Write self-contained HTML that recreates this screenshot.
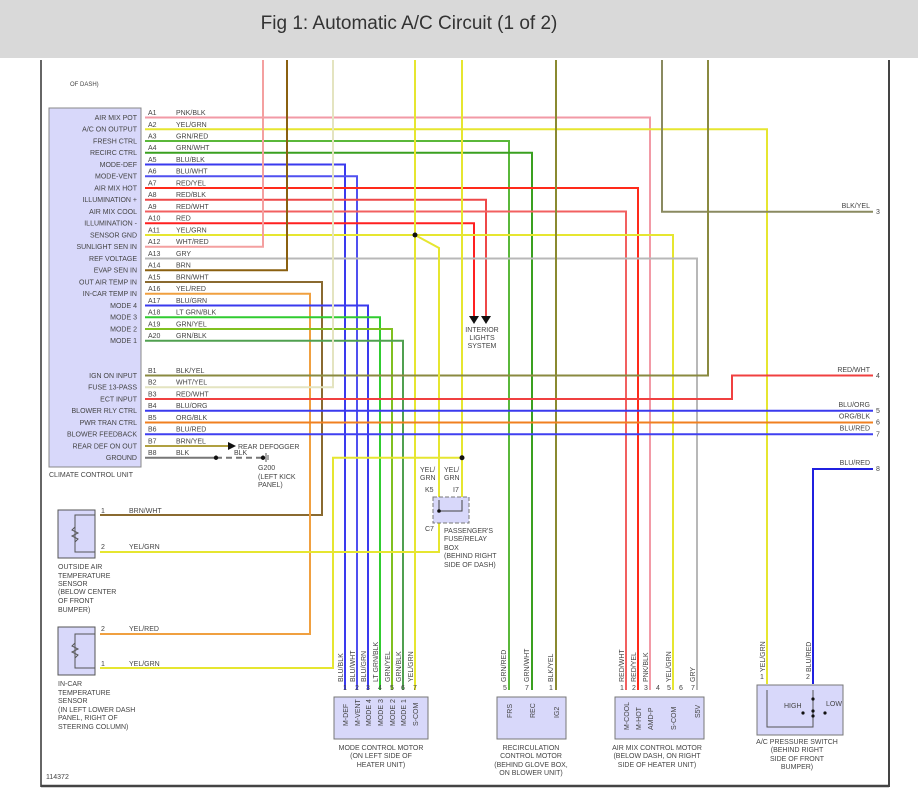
<!DOCTYPE html>
<html><head><meta charset="utf-8"><style>
html,body{margin:0;padding:0;background:#fff;width:918px;height:796px;overflow:hidden}
svg{display:block}
text{font-family:"Liberation Sans",sans-serif;font-size:7px;fill:#444}
</style></head><body>
<svg width="918" height="796" viewBox="0 0 918 796" xmlns="http://www.w3.org/2000/svg">
<rect x="0" y="0" width="918" height="58" fill="#d9d9d9"/>
<text x="409" y="29" text-anchor="middle" style="font-size:19px;fill:#333">Fig 1: Automatic A/C Circuit (1 of 2)</text>
<line x1="41" y1="60" x2="41" y2="787" stroke="#333" stroke-width="1.5"/>
<line x1="889" y1="60" x2="889" y2="787" stroke="#444" stroke-width="2"/>
<line x1="41" y1="786" x2="889" y2="786" stroke="#444" stroke-width="2.5"/>
<text x="70" y="86" style="font-size:6px">OF DASH)</text>

<g fill="none" stroke-width="2">
<polyline points="145,117.5 650,117.5 650,690" stroke="#f29aa6"/>
<polyline points="145,129.25 767,129.25 767,684" stroke="#e6e630"/>
<polyline points="145,141 509,141 509,690" stroke="#5ab83a"/>
<polyline points="145,152.75 532,152.75 532,690" stroke="#3aa020"/>
<polyline points="145,164.5 345,164.5 345,690" stroke="#3a3aee"/>
<polyline points="145,176.25 357,176.25 357,690" stroke="#5050f0"/>
<polyline points="145,188 638,188 638,690" stroke="#ff2a1a"/>
<polyline points="145,199.75 486,199.75 486,316" stroke="#ee4848"/>
<polyline points="145,211.5 626,211.5 626,690" stroke="#f26060"/>
<polyline points="145,223.25 474,223.25 474,316" stroke="#ff2020"/>
<polyline points="145,235 673,235 673,690" stroke="#e6e630"/>
<polyline points="145,246.75 263,246.75 263,60" stroke="#f4a0a0"/>
<polyline points="145,258.5 697,258.5 697,690" stroke="#b8b8b8"/>
<polyline points="145,270.25 287,270.25 287,60" stroke="#8a6010"/>
<polyline points="145,282 322,282 322,515 100,515" stroke="#8a6a30"/>
<polyline points="145,293.75 310,293.75 310,634 100,634" stroke="#f0a040"/>
<polyline points="145,305.5 368,305.5 368,690" stroke="#3a3aee"/>
<polyline points="145,317.25 380,317.25 380,690" stroke="#30cc30"/>
<polyline points="145,329 392,329 392,690" stroke="#80c020"/>
<polyline points="145,340.75 403,340.75 403,690" stroke="#50a050"/>
<polyline points="415,60 415,690" stroke="#e6e630"/>
<polyline points="556,60 556,690" stroke="#8a8a30"/>
<polyline points="333,60 333,387.25 145,387.25" stroke="#e4e4c0"/>
<polyline points="462,60 462,500" stroke="#e6e630"/>
<polyline points="662,60 662,211.7 873,211.7" stroke="#8a8a60"/>
<polyline points="708,60 708,375.5 145,375.5" stroke="#8a8a40"/>
<polyline points="462,457.75 333,457.75 333,668 100,668" stroke="#e6e630"/>
<polyline points="415,235 439,248 439,552 100,552" stroke="#e6e630"/>
<polyline points="145,399 732,399 732,375.5 873,375.5" stroke="#f04040"/>
<polyline points="145,410.75 873,410.75" stroke="#3a3aee"/>
<polyline points="145,422.5 873,422.5" stroke="#f08020"/>
<polyline points="145,434.25 873,434.25" stroke="#4040f0"/>
<polyline points="145,446 228,446" stroke="#b0a040"/>
<polyline points="145,457.75 216,457.75" stroke="#777"/>
<polyline points="216,457.75 263,457.75" stroke="#777" stroke-dasharray="6,4"/>
<polyline points="873,469 813,469 813,684" stroke="#2020e0"/>
</g>
<polygon points="469,316 479,316 474,324" fill="#111"/>
<polygon points="481,316 491,316 486,324" fill="#111"/>
<polygon points="228,442 236,446 228,450" fill="#111"/>
<circle cx="415" cy="235" r="2.5" fill="#111"/>
<circle cx="462" cy="457.75" r="2.5" fill="#111"/>
<circle cx="216" cy="457.75" r="2.2" fill="#111"/>
<circle cx="263" cy="457.75" r="2.2" fill="#111"/>
<line x1="266" y1="453" x2="266" y2="462" stroke="#555"/><line x1="268" y1="455" x2="268" y2="460" stroke="#555"/>

<text x="482" y="332" text-anchor="middle">INTERIOR</text>
<text x="482" y="340" text-anchor="middle">LIGHTS</text>
<text x="482" y="348" text-anchor="middle">SYSTEM</text>
<text x="238" y="449">REAR DEFOGGER</text>
<text x="234" y="455">BLK</text>
<text x="258" y="470">G200</text><text x="258" y="479">(LEFT KICK</text><text x="258" y="487">PANEL)</text>

<!-- climate control unit -->
<rect x="49" y="108" width="92" height="359" fill="#d8d8fa" stroke="#888"/>
<text x="49" y="477">CLIMATE CONTROL UNIT</text>
<g text-anchor="end">
<text x="137" y="120">AIR MIX POT</text><text x="137" y="131.5">A/C ON OUTPUT</text><text x="137" y="143.5">FRESH CTRL</text><text x="137" y="155">RECIRC CTRL</text><text x="137" y="167">MODE-DEF</text><text x="137" y="178.5">MODE-VENT</text><text x="137" y="190.5">AIR MIX HOT</text><text x="137" y="202">ILLUMINATION +</text><text x="137" y="214">AIR MIX COOL</text><text x="137" y="225.5">ILLUMINATION -</text><text x="137" y="237.5">SENSOR GND</text><text x="137" y="249">SUNLIGHT SEN IN</text><text x="137" y="261">REF VOLTAGE</text><text x="137" y="272.5">EVAP SEN IN</text><text x="137" y="284.5">OUT AIR TEMP IN</text><text x="137" y="296">IN-CAR TEMP IN</text><text x="137" y="308">MODE 4</text><text x="137" y="319.5">MODE 3</text><text x="137" y="331.5">MODE 2</text><text x="137" y="343">MODE 1</text>
<text x="137" y="378">IGN ON INPUT</text><text x="137" y="389.5">FUSE 13-PASS</text><text x="137" y="401.5">ECT INPUT</text><text x="137" y="413">BLOWER RLY CTRL</text><text x="137" y="425">PWR TRAN CTRL</text><text x="137" y="436.5">BLOWER FEEDBACK</text><text x="137" y="448.5">REAR DEF ON OUT</text><text x="137" y="460">GROUND</text>
</g>
<g>
<text x="148" y="115">A1</text><text x="176" y="115">PNK/BLK</text>
<text x="148" y="127">A2</text><text x="176" y="127">YEL/GRN</text>
<text x="148" y="138.5">A3</text><text x="176" y="138.5">GRN/RED</text>
<text x="148" y="150">A4</text><text x="176" y="150">GRN/WHT</text>
<text x="148" y="162">A5</text><text x="176" y="162">BLU/BLK</text>
<text x="148" y="173.5">A6</text><text x="176" y="173.5">BLU/WHT</text>
<text x="148" y="185.5">A7</text><text x="176" y="185.5">RED/YEL</text>
<text x="148" y="197">A8</text><text x="176" y="197">RED/BLK</text>
<text x="148" y="209">A9</text><text x="176" y="209">RED/WHT</text>
<text x="148" y="220.5">A10</text><text x="176" y="220.5">RED</text>
<text x="148" y="232.5">A11</text><text x="176" y="232.5">YEL/GRN</text>
<text x="148" y="244">A12</text><text x="176" y="244">WHT/RED</text>
<text x="148" y="256">A13</text><text x="176" y="256">GRY</text>
<text x="148" y="267.5">A14</text><text x="176" y="267.5">BRN</text>
<text x="148" y="279.5">A15</text><text x="176" y="279.5">BRN/WHT</text>
<text x="148" y="291">A16</text><text x="176" y="291">YEL/RED</text>
<text x="148" y="303">A17</text><text x="176" y="303">BLU/GRN</text>
<text x="148" y="314.5">A18</text><text x="176" y="314.5">LT GRN/BLK</text>
<text x="148" y="326.5">A19</text><text x="176" y="326.5">GRN/YEL</text>
<text x="148" y="338">A20</text><text x="176" y="338">GRN/BLK</text>
<text x="148" y="373">B1</text><text x="176" y="373">BLK/YEL</text>
<text x="148" y="384.5">B2</text><text x="176" y="384.5">WHT/YEL</text>
<text x="148" y="396.5">B3</text><text x="176" y="396.5">RED/WHT</text>
<text x="148" y="408">B4</text><text x="176" y="408">BLU/ORG</text>
<text x="148" y="420">B5</text><text x="176" y="420">ORG/BLK</text>
<text x="148" y="431.5">B6</text><text x="176" y="431.5">BLU/RED</text>
<text x="148" y="443.5">B7</text><text x="176" y="443.5">BRN/YEL</text>
<text x="148" y="455">B8</text><text x="176" y="455">BLK</text>
</g>

<!-- right side labels -->
<g text-anchor="end">
<text x="870" y="208">BLK/YEL</text><text x="870" y="372">RED/WHT</text><text x="870" y="407">BLU/ORG</text><text x="870" y="418.5">ORG/BLK</text><text x="870" y="430.5">BLU/RED</text><text x="870" y="465">BLU/RED</text>
</g>
<text x="876" y="214">3</text><text x="876" y="378">4</text><text x="876" y="413">5</text><text x="876" y="424.5">6</text><text x="876" y="436.5">7</text><text x="876" y="471">8</text>

<!-- relay box -->
<rect x="433" y="497" width="36" height="26" fill="#d8d8fa" stroke="#777" stroke-dasharray="4,2"/>
<polyline points="439,500 439,511 462,511 462,500" fill="none" stroke="#444"/>
<circle cx="439" cy="511" r="1.8" fill="#111"/>
<text x="420" y="472">YEL/</text><text x="420" y="480">GRN</text>
<text x="444" y="472">YEL/</text><text x="444" y="480">GRN</text>
<text x="425" y="492">K5</text><text x="453" y="492">I7</text>
<text x="425" y="531">C7</text>
<text x="444" y="533">PASSENGER'S</text><text x="444" y="541">FUSE/RELAY</text><text x="444" y="550">BOX</text><text x="444" y="558">(BEHIND RIGHT</text><text x="444" y="567">SIDE OF DASH)</text>

<!-- sensors -->
<rect x="58" y="510" width="37" height="48" fill="#d8d8fa" stroke="#555"/>
<polyline points="95,515 75,515 75,552 95,552" fill="none" stroke="#555"/>
<polyline points="75,527 72,530 78,533 72,536 78,539 75,542" fill="none" stroke="#555"/>
<text x="101" y="513">1</text><text x="129" y="513">BRN/WHT</text>
<text x="101" y="549">2</text><text x="129" y="549">YEL/GRN</text>
<text x="58" y="569">OUTSIDE AIR</text><text x="58" y="578">TEMPERATURE</text><text x="58" y="586">SENSOR</text><text x="58" y="594">(BELOW CENTER</text><text x="58" y="603">OF FRONT</text><text x="58" y="612">BUMPER)</text>
<rect x="58" y="627" width="37" height="48" fill="#d8d8fa" stroke="#555"/>
<polyline points="95,634 75,634 75,668 95,668" fill="none" stroke="#555"/>
<polyline points="75,643 72,646 78,649 72,652 78,655 75,658" fill="none" stroke="#555"/>
<text x="101" y="631">2</text><text x="129" y="631">YEL/RED</text>
<text x="101" y="666">1</text><text x="129" y="666">YEL/GRN</text>
<text x="58" y="686">IN-CAR</text><text x="58" y="695">TEMPERATURE</text><text x="58" y="703">SENSOR</text><text x="58" y="712">(IN LEFT LOWER DASH</text><text x="58" y="720">PANEL, RIGHT OF</text><text x="58" y="729">STEERING COLUMN)</text>
<text x="46" y="779">114372</text>

<!-- motors -->
<rect x="334" y="697" width="94" height="42" fill="#d8d8fa" stroke="#777"/>
<rect x="497" y="697" width="69" height="42" fill="#d8d8fa" stroke="#777"/>
<rect x="615" y="697" width="89" height="42" fill="#d8d8fa" stroke="#777"/>
<rect x="757" y="685" width="86" height="50" fill="#d8d8fa" stroke="#777"/>
<polyline points="767,690 767,727 813,727 813,690" fill="none" stroke="#555"/>
<circle cx="813" cy="699" r="1.6" fill="#111"/><circle cx="813" cy="711" r="1.6" fill="#111"/><circle cx="813" cy="716" r="1.6" fill="#111"/><circle cx="803" cy="713" r="1.6" fill="#111"/><circle cx="825" cy="713" r="1.6" fill="#111"/>
<text x="784" y="708">HIGH</text><text x="826" y="706">LOW</text>
<g style="font-size:6.5px">
<text x="345" y="690" text-anchor="middle">1</text><text x="357" y="690" text-anchor="middle">2</text><text x="368" y="690" text-anchor="middle">3</text><text x="380" y="690" text-anchor="middle">4</text><text x="392" y="690" text-anchor="middle">5</text><text x="403" y="690" text-anchor="middle">6</text><text x="415" y="690" text-anchor="middle">7</text>
<text x="503" y="690">5</text><text x="525" y="690">7</text><text x="549" y="690">1</text>
<text x="620" y="690">1</text><text x="632" y="690">2</text><text x="644" y="690">3</text><text x="656" y="690">4</text><text x="667" y="690">5</text><text x="679" y="690">6</text><text x="691" y="690">7</text>
<text x="760" y="679">1</text><text x="806" y="679">2</text>
</g>
<g style="font-size:6.5px">
<text transform="translate(343,682) rotate(-90)">BLU/BLK</text>
<text transform="translate(355,682) rotate(-90)">BLU/WHT</text>
<text transform="translate(366,682) rotate(-90)">BLU/GRN</text>
<text transform="translate(378,682) rotate(-90)">LT GRN/BLK</text>
<text transform="translate(390,682) rotate(-90)">GRN/YEL</text>
<text transform="translate(401,682) rotate(-90)">GRN/BLK</text>
<text transform="translate(413,682) rotate(-90)">YEL/GRN</text>
<text transform="translate(506,682) rotate(-90)">GRN/RED</text>
<text transform="translate(529,682) rotate(-90)">GRN/WHT</text>
<text transform="translate(553,682) rotate(-90)">BLK/YEL</text>
<text transform="translate(624,682) rotate(-90)">RED/WHT</text>
<text transform="translate(636,682) rotate(-90)">RED/YEL</text>
<text transform="translate(648,682) rotate(-90)">PNK/BLK</text>
<text transform="translate(671,682) rotate(-90)">YEL/GRN</text>
<text transform="translate(695,682) rotate(-90)">GRY</text>
<text transform="translate(765,672) rotate(-90)">YEL/GRN</text>
<text transform="translate(811,672) rotate(-90)">BLU/RED</text>
<text transform="translate(348,726) rotate(-90)">M-DEF</text>
<text transform="translate(360,726) rotate(-90)">M-VENT</text>
<text transform="translate(371,726) rotate(-90)">MODE 4</text>
<text transform="translate(383,726) rotate(-90)">MODE 3</text>
<text transform="translate(395,726) rotate(-90)">MODE 2</text>
<text transform="translate(406,726) rotate(-90)">MODE 1</text>
<text transform="translate(418,726) rotate(-90)">S-COM</text>
<text transform="translate(512,718) rotate(-90)">FRS</text>
<text transform="translate(535,718) rotate(-90)">REC</text>
<text transform="translate(559,718) rotate(-90)">IG2</text>
<text transform="translate(629,730) rotate(-90)">M-COOL</text>
<text transform="translate(641,730) rotate(-90)">M-HOT</text>
<text transform="translate(653,730) rotate(-90)">AMD-P</text>
<text transform="translate(676,730) rotate(-90)">S-COM</text>
<text transform="translate(700,718) rotate(-90)">S5V</text>
</g>
<g text-anchor="middle">
<text x="381" y="750">MODE CONTROL MOTOR</text><text x="381" y="758">(ON LEFT SIDE OF</text><text x="381" y="767">HEATER UNIT)</text>
<text x="531" y="750">RECIRCULATION</text><text x="531" y="758">CONTROL MOTOR</text><text x="531" y="767">(BEHIND GLOVE BOX,</text><text x="531" y="775">ON BLOWER UNIT)</text>
<text x="657" y="750">AIR MIX CONTROL MOTOR</text><text x="657" y="758">(BELOW DASH, ON RIGHT</text><text x="657" y="767">SIDE OF HEATER UNIT)</text>
<text x="797" y="744">A/C PRESSURE SWITCH</text><text x="797" y="752">(BEHIND RIGHT</text><text x="797" y="761">SIDE OF FRONT</text><text x="797" y="769">BUMPER)</text>
</g>
</svg>
</body></html>
